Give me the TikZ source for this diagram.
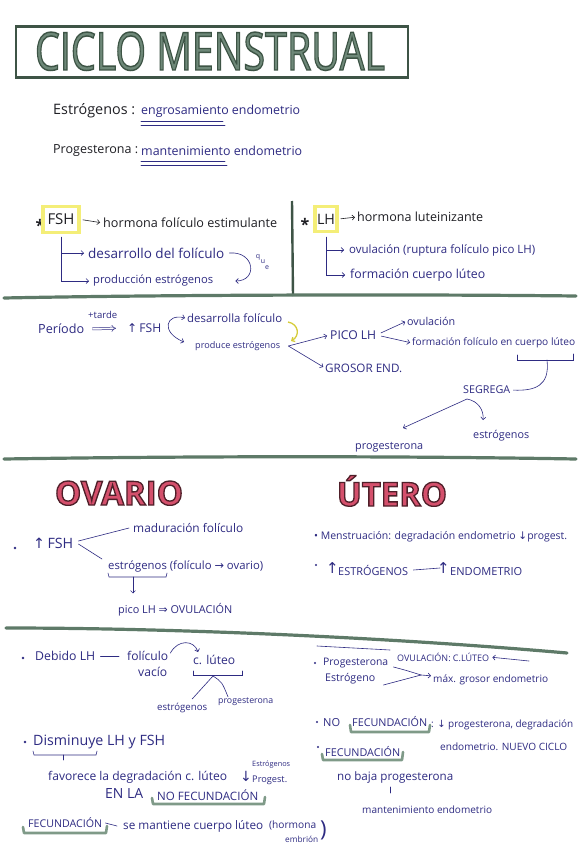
\documentclass[tikz,border=0pt]{standalone}
\usepackage{fontspec}
\setmainfont{Open Sans}
\newfontfamily\symf{DejaVu Sans}
\usetikzlibrary{arrows.meta,calc}
\definecolor{ink}{HTML}{2E2B82}
\definecolor{pen}{HTML}{1F1F24}
\definecolor{grn}{HTML}{3E5446}
\definecolor{grnl}{HTML}{7F9A88}
\definecolor{grnm}{HTML}{5E7A68}
\definecolor{titf}{HTML}{6E8878}
\definecolor{pinkf}{HTML}{D4506C}
\definecolor{pinkd}{HTML}{4E1E2A}
\definecolor{hl}{HTML}{F4EE78}
\definecolor{yarr}{HTML}{D6CC3A}
\newcommand\fit[2]{\resizebox{#1pt}{!}{#2}}
\newcommand\fitwh[3]{\resizebox{#1pt}{#2pt}{#3}}
\newcommand\ua{{\symf ↑}}
\newcommand\da{{\symf ↓}}
\newcommand\ra{{\symf →}}
\newcommand\Ra{{\symf ⇒}}
% outlined text: #1 stroke width, #2 stroke rgb, #3 text
\newcommand\outl[3]{\special{pdf:literal direct 2 Tr #1 w #2 RG}#3\special{pdf:literal direct 0 Tr}}
\begin{document}
\begin{tikzpicture}[x=1pt,y=-1pt,
  t/.style={inner sep=0pt,anchor=west,text=ink},
  b/.style={inner sep=0pt,anchor=west,text=pen},
  tiny/.style={inner sep=0pt,text=ink,font=\fontsize{7}{7}\selectfont},
  ln/.style={draw=ink,line width=0.6pt,line cap=round},
  ar/.style={ln,-{Straight Barb[length=2.5pt,width=5pt]}},
  arb/.style={draw=pen,line width=0.6pt,-{Straight Barb[length=2.5pt,width=5pt]}},
  div/.style={draw=grnm,line width=3.2pt,line cap=round},
  gbr/.style={draw=grnl,line width=2.6pt,line cap=round,line join=round},
  hlbox/.style={draw=hl,line width=3.5pt,inner sep=0pt,text=pen},
  stars/.style={inner sep=0pt,anchor=base,text=pen,font=\bfseries\fontsize{16}{16}\selectfont},
  big/.style={inner sep=0pt,anchor=base,text=pinkf},
]
\useasboundingbox[fill=white] (0,0) rectangle (580,848);

% ---------- title ----------
\node[draw=grn,line width=2.4pt,minimum width=392pt,minimum height=51pt,inner sep=0pt] (titlebox) at (212,52) {};
\node[inner sep=0pt,anchor=base,text=titf] (title) at (210,70) {\fitwh{350}{38}{\outl{0.28}{0.24 0.33 0.27}{CICLO MENSTRUAL}}};

% ---------- definitions ----------
\node[b] (estl) at (53,111) {\fit{82}{Estrógenos :}};
\node[t] (estr) at (141,111) {\fit{159}{engrosamiento endometrio}};
\draw[ln] (141,121) -- (223,121);
\draw[ln] (141,125) -- (225,125);
\node[b] (progl) at (53,151) {\fit{85}{Progesterona :}};
\node[t] (progr) at (141,151) {\fit{161}{mantenimiento endometrio}};
\draw[ln] (141,161) -- (225,161);
\draw[ln] (141,165) -- (227,165);

% ---------- FSH / LH ----------
\node[stars] (star1) at (40,231) {*};
\node[hlbox,minimum width=36pt,minimum height=26pt] (fsh) at (61,219.5) {\fit{27}{FSH}};
\node[b] (h1) at (103,223) {\fit{174}{hormona folículo estimulante}};
\draw[arb,shorten <=2pt,shorten >=3pt] (fsh.east) -- (h1.west);
\node[t] (d1) at (88,253) {\fit{136}{desarrollo del folículo}};
\node[t] (d2) at (93,281) {\fit{120}{producción estrógenos}};
\draw[ar,shorten >=4pt] ([yshift=-3pt]fsh.south) |- (d1.west);
\draw[ar,shorten >=4pt] ([yshift=-3pt]fsh.south) |- (d2.west);
\draw[ar] ([xshift=5pt]d1.east) .. controls (255,251) and (258,281) .. ([xshift=22pt]d2.east);
\node[tiny] (qq) at (258,257) {q};
\node[tiny] (qu) at (263,262) {u};
\node[tiny] (qe) at (267,268) {e};

\node[stars] (star2) at (305,230) {*};
\node[hlbox,minimum width=22pt,minimum height=25pt] (lh) at (326,219) {\fit{18}{LH}};
\node[b] (h2) at (357,217) {\fit{126}{hormona luteinizante}};
\draw[arb,shorten <=2pt,shorten >=2pt] (lh.east) -- (h2.west);
\node[t] (o1) at (349,250) {\fit{186}{ovulación (ruptura folículo pico LH)}};
\node[t] (o2) at (350,275) {\fit{135}{formación cuerpo lúteo}};
\draw[ar,shorten >=5pt] ([yshift=-4pt]lh.south) |- (o1.west);
\draw[ar,shorten >=5pt] ([yshift=-4pt]lh.south) |- (o2.west);

\draw[grn,line width=2.4pt] (292,201) -- (293,296);
\draw[div] (4,298) .. controls (150,295) and (400,294) .. (576,296);

% ---------- period ----------
\node[t] (per) at (38,329) {\fit{46}{Período}};
\node[t] (tarde) at (88,315) {\fit{29}{+tarde}};
\node[t] (fsh2) at (127,328) {\fit{34}{\ua\,FSH}};
\draw[ink,line width=0.5pt,double distance=1.8pt,-{Implies},shorten <=8pt,shorten >=11pt] (per.east) -- (fsh2.west);
\node[t] (des) at (187,318) {\fit{95}{desarrolla folículo}};
\node[t] (pro) at (195,346) {\fit{85}{produce estrógenos}};
\draw[ln,{Straight Barb[length=2.5pt,width=5pt]}-{Straight Barb[length=2.5pt,width=5pt]}] ([xshift=-2pt]des.west) .. controls (166,313) and (160,332) .. ([xshift=-11pt,yshift=4pt]pro.west);
\draw[yarr,line width=1.3pt,-{Straight Barb[length=2.5pt,width=5pt]}] (288,322) .. controls (299,324) and (300,336) .. (291,341);
\node[t] (pico) at (330,335) {\fit{46}{PICO LH}};
\node[t] (gros) at (325,368) {\fit{77}{GROSOR END.}};
\coordinate (psplit) at ([xshift=8pt]pro.east);
\draw[ar,shorten >=3pt] (psplit) -- (pico.west);
\draw[ar,shorten >=2pt] (psplit) -- (gros.west);
\node[t] (ov2) at (407,321) {\fit{48}{ovulación}};
\node[t] (form) at (412,343) {\fit{163}{formación folículo en cuerpo lúteo}};
\draw[ar,shorten <=5pt,shorten >=2pt] (pico.east) -- (ov2.west);
\draw[ar,shorten <=5pt,shorten >=2pt] (pico.east) -- (form.west);
\draw[ln] (517,355) -- (517,360) -- (573,360) -- (573,354);
\node[t] (seg) at (463,390) {\fit{47}{SEGREGA}};
\draw[ln,shorten >=3pt] (547,360) .. controls (550,386) and (535,391) .. (seg.east);
\node[t] (prog) at (355,447) {\fit{68}{progesterona}};
\node[t] (estr2) at (473,436) {\fit{56}{estrógenos}};
\coordinate (segs) at (467,399);
\coordinate (progtip) at (403,428);
\coordinate (esttip) at (483,420);
\draw[ar] (segs) -- (progtip);
\draw[ar] (segs) .. controls (478,401) and (484,410) .. (esttip);

\draw[div] (4,459) .. controls (200,456) and (400,456) .. (576,459);

% ---------- ovario / utero ----------
\node[big] (ovario) at (119,505) {\fit{128}{\outl{0.4}{0.31 0.12 0.16}{\bfseries OVARIO}}};
\node[big] (utero) at (392,506) {\fit{110}{\outl{0.4}{0.31 0.12 0.16}{\bfseries ÚTERO}}};

\fill[ink] (15,548) circle (1.3pt);
\node[t] (fsh3) at (33,543) {\fit{40}{\ua\,FSH}};
\node[t] (mad) at (133,528) {\fit{110}{maduración folículo}};
\node[t] (estov) at (108,567) {\fit{155}{estrógenos (folículo \ra\ ovario)}};
\draw[ln] ([xshift=5pt,yshift=2pt]fsh3.east) -- ([xshift=-4pt]mad.west);
\draw[ln] ([xshift=5pt,yshift=-1pt]fsh3.east) -- ([xshift=-6pt,yshift=8pt]estov.west);
\draw[ln] (108,573) -- (109,577) -- (166,577) -- (167,573);
\node[t] (picoov) at (118,610) {\fit{114}{pico LH \Ra\ OVULACIÓN}};
\draw[ar] (133,577) -- ($(picoov.north west)+(15,-10)$);

\node[t] (mens) at (314,537) {\fit{253}{• Menstruación: degradación endometrio \da progest.}};
\fill[ink] (316,565) circle (1.2pt);
\node[t] (ua1) at (326,568) {\fontsize{15}{15}\selectfont\ua};
\node[t] (estu) at (338,570) {\fit{70}{ESTRÓGENOS}};
\node[t] (ua2) at (437,568) {\fontsize{15}{15}\selectfont\ua};
\node[t] (endo) at (450,572) {\fit{72}{ENDOMETRIO}};
\draw[ln] ([xshift=5pt]estu.east) -- ([xshift=3pt]ua2.west);

\draw[div] (6,628) .. controls (200,628) and (420,640) .. (567,653);

% ---------- bottom left ----------
\fill[ink] (23,658) circle (1.3pt);
\node[t] (deb) at (35,656) {\fit{60}{Debido LH}};
\node[t] (fol) at (127,656) {\fit{41}{folículo}};
\node[t] (vac) at (138,672) {\fit{29}{vacío}};
\draw[ln] ([xshift=5pt]deb.east) -- ([xshift=-8pt]fol.west);
\node[t] (clut) at (193,660) {\fit{42}{c. lúteo}};
\draw[ar] ([xshift=2pt,yshift=3pt]fol.east) .. controls (178,639) and (194,640) .. ([xshift=5pt,yshift=8pt]clut.west);
\draw[ln] (193,671) -- (193,675) -- (242,675) -- (242,671);
\coordinate (cb) at (213,676);
\node[t] (est4) at (157,708) {\fit{50}{estrógenos}};
\node[t] (prog4) at (218,702) {\fit{55}{progesterona}};
\draw[ln] (cb) -- ($(est4.north)+(10,-4)$);
\draw[ln] (cb) .. controls (222,682) .. ($(prog4.north west)+(10,-1)$);

\fill[ink] (25,742) circle (1.3pt);
\node[t] (dism) at (33,742) {\fit{132}{Disminuye LH y FSH}};
\draw[ln] (33,751) -- (34,755) -- (96,755) -- (97,751);
\draw[ln] (63,755) -- (63,760);
\node[t] (fav) at (48,777) {\fit{179}{favorece la degradación c. lúteo}};
\node[t] (da1) at (240,776) {\fontsize{14}{14}\selectfont\da};
\node[t] (estsm) at (252,765) {\fit{38}{Estrógenos}};
\node[t] (progsm) at (252,780) {\fit{35}{Progest.}};
\node[t] (enla) at (105,793) {\fit{38}{EN LA}};
\node[t] (nofec) at (157,795) {\fit{101}{NO FECUNDACIÓN}};
\draw[gbr] (152,798) -- (153,804) -- (264,804) -- (265,797);
\node[t] (fec1) at (28,823) {\fit{74}{FECUNDACIÓN}};
\draw[gbr] (23,827) -- (24,833) -- (106,833) -- (107,826);
\node[t] (mant) at (123,826) {\fit{140}{se mantiene cuerpo lúteo}};
\draw[ln] ([xshift=3pt]fec1.east) -- ([xshift=-6pt]mant.west);
\node[t] (horm) at (269,825) {\fit{47}{(hormona}};
\node[t] (emb) at (285,839) {\fit{33}{embrión}};
\node[t] (paren) at (320,830) {\fontsize{22}{22}\selectfont )};

% ---------- bottom right ----------
\draw[ln] (317,646) -- (390,650);
\node[t] (ovc) at (397,657) {\fit{92}{OVULACIÓN: C.LÚTEO}};
\coordinate (ovcarr) at (529,661);
\draw[ar,shorten >=3pt] (ovcarr) -- (ovc.east);
\fill[ink] (315,663) circle (1.2pt);
\node[t] (prog5) at (323,663) {\fit{65}{Progesterona}};
\node[t] (estr5) at (325,679) {\fit{50}{Estrógeno}};
\node[t] (maxg) at (433,680) {\fit{115}{máx. grosor endometrio}};
\coordinate (conv) at (421,675);
\draw[ln] ([xshift=5pt,yshift=-4pt]prog5.east) .. controls (405,670) .. (conv);
\draw[ln] ([xshift=8pt,yshift=-6pt]estr5.east) -- (conv);
\draw[ar,shorten >=2pt] (conv) -- ([yshift=4pt]maxg.west);

\fill[ink] (317,722) circle (1.2pt);
\node[t] (no) at (323,723) {\fit{17}{NO}};
\node[t] (fec2) at (352,722) {\fit{75}{FECUNDACIÓN}};
\node[t] (prgd) at (431,725) {\fit{142}{: \da\ progesterona, degradación}};
\draw[gbr] (350,725) -- (351,732) -- (429,732) -- (430,725);
\node[t] (nuevo) at (440,747) {\fit{127}{endometrio. NUEVO CICLO}};
\fill[ink] (318,747) circle (1.2pt);
\node[t] (fec3) at (325,752) {\fit{75}{FECUNDACIÓN}};
\draw[gbr] (322,754) -- (323,760) -- (402,760) -- (403,752);
\node[t] (nobaja) at (337,777) {\fit{116}{no baja progesterona}};
\node[t] (mant2) at (362,810) {\fit{130}{mantenimiento endometrio}};
\draw[ln] (390,787) -- (390,793);
\end{tikzpicture}
\end{document}
